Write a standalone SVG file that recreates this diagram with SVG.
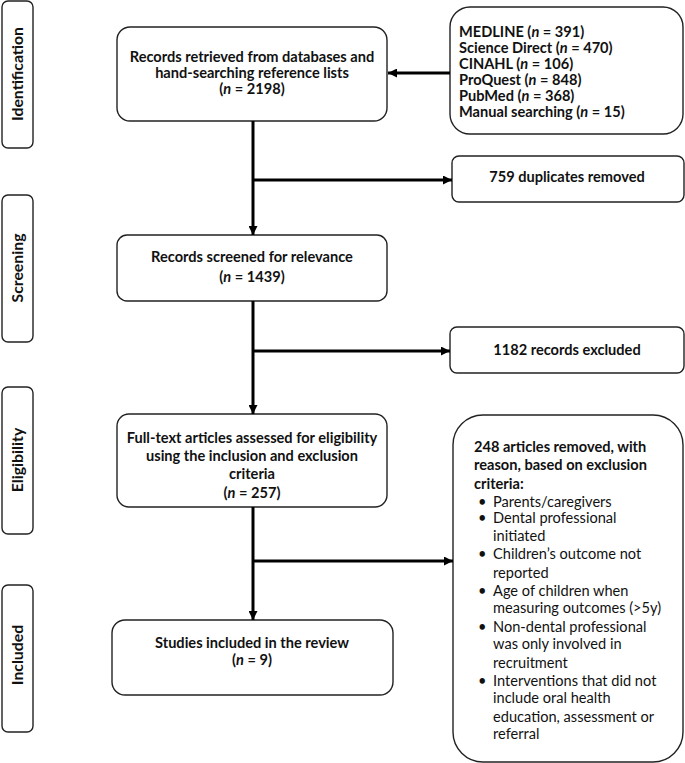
<svg xmlns="http://www.w3.org/2000/svg" width="685" height="763" viewBox="0 0 685 763">
<style>
.box{fill:#fff;stroke:#222;stroke-width:1.4}
.t{font-family:Lato,"Liberation Sans",sans-serif;font-size:14.6px;fill:#111}
.s{font-size:15.8px}
.b{font-weight:bold}
.c{text-anchor:middle}
.i{font-style:italic}
.ln{stroke:#000;stroke-width:3;fill:none}
</style>
<defs>
<marker id="ah" viewBox="0 0 10 10" refX="10" refY="5" markerWidth="3" markerHeight="3" orient="auto" markerUnits="strokeWidth">
<path d="M0,0 L10,5 L0,10 Z" fill="#000"/>
</marker>
</defs>
<rect width="685" height="763" fill="#fff"/>

<g id="stage-identification">
<rect class="box" x="2" y="1" width="31" height="147" rx="6"/>
<text class="t s b c" transform="translate(23,74) rotate(-90)">Identification</text>
</g>
<g id="stage-screening">
<rect class="box" x="2" y="195" width="31" height="147" rx="6"/>
<text class="t s b c" transform="translate(23,268) rotate(-90)">Screening</text>
</g>
<g id="stage-eligibility">
<rect class="box" x="2" y="387" width="31" height="147" rx="6"/>
<text class="t s b c" transform="translate(23,460) rotate(-90)">Eligibility</text>
</g>
<g id="stage-included">
<rect class="box" x="2" y="585" width="31" height="147" rx="6"/>
<text class="t s b c" transform="translate(23,655) rotate(-90)">Included</text>
</g>

<g id="records-retrieved">
<rect class="box" x="117" y="27" width="270" height="94" rx="13"/>
<text class="t b c" x="252" y="62">Records retrieved from databases and</text>
<text class="t b c" x="252" y="78">hand-searching reference lists</text>
<text class="t b c" x="252" y="94">(<tspan class="i">n</tspan> = 2198)</text>
</g>

<g id="sources">
<rect class="box" x="450" y="7" width="233" height="127" rx="20"/>
<text class="t b" x="459" y="37">MEDLINE (<tspan class="i">n</tspan> = 391)</text>
<text class="t b" x="459" y="53">Science Direct (<tspan class="i">n</tspan> = 470)</text>
<text class="t b" x="459" y="69">CINAHL (<tspan class="i">n</tspan> = 106)</text>
<text class="t b" x="459" y="85">ProQuest (<tspan class="i">n</tspan> = 848)</text>
<text class="t b" x="459" y="101">PubMed (<tspan class="i">n</tspan> = 368)</text>
<text class="t b" x="459" y="117">Manual searching (<tspan class="i">n</tspan> = 15)</text>
</g>

<g id="duplicates">
<rect class="box" x="452" y="156" width="232" height="46" rx="7"/>
<text class="t b c" x="567" y="182">759 duplicates removed</text>
</g>

<g id="records-screened">
<rect class="box" x="117" y="235" width="270" height="66" rx="10"/>
<text class="t b c" x="252" y="262">Records screened for relevance</text>
<text class="t b c" x="252" y="282">(<tspan class="i">n</tspan> =  1439)</text>
</g>

<g id="records-excluded">
<rect class="box" x="450" y="327" width="234" height="46" rx="7"/>
<text class="t b c" x="567" y="355">1182 records excluded</text>
</g>

<g id="full-text">
<rect class="box" x="117" y="414" width="270" height="93" rx="12"/>
<text class="t b c" x="252" y="443">Full-text articles assessed for eligibility</text>
<text class="t b c" x="252" y="461">using the inclusion and exclusion</text>
<text class="t b c" x="252" y="479">criteria</text>
<text class="t b c" x="252" y="498">(<tspan class="i">n</tspan> =  257)</text>
</g>

<g id="articles-removed">
<rect class="box" x="453" y="415" width="230" height="347" rx="30"/>
<text class="t b" x="474" y="452">248 articles removed, with</text>
<text class="t b" x="474" y="470">reason, based on exclusion</text>
<text class="t b" x="474" y="489">criteria:</text>
<g class="t">
<text x="478" y="507">•</text><text x="493" y="507">Parents/caregivers</text>
<text x="478" y="523">•</text><text x="493" y="523">Dental professional</text>
<text x="493" y="541">initiated</text>
<text x="478" y="559">•</text><text x="493" y="559">Children’s outcome not</text>
<text x="493" y="578">reported</text>
<text x="478" y="596">•</text><text x="493" y="596">Age of children when</text>
<text x="493" y="613">measuring outcomes (&gt;5y)</text>
<text x="478" y="632">•</text><text x="493" y="632">Non-dental professional</text>
<text x="493" y="649">was only involved in</text>
<text x="493" y="668">recruitment</text>
<text x="478" y="686">•</text><text x="493" y="686">Interventions that did not</text>
<text x="493" y="703">include oral health</text>
<text x="493" y="722">education, assessment or</text>
<text x="493" y="739">referral</text>
</g>
</g>

<g id="studies-included">
<rect class="box" x="112" y="620" width="281" height="75" rx="13"/>
<text class="t b c" x="252" y="648">Studies included in the review</text>
<text class="t b c" x="252" y="665">(<tspan class="i">n</tspan> = 9)</text>
</g>

<g id="connectors">
<line class="ln" x1="450" y1="73" x2="388" y2="73" marker-end="url(#ah)"/>
<line class="ln" x1="253" y1="121" x2="253" y2="235" marker-end="url(#ah)"/>
<line class="ln" x1="253" y1="180" x2="452" y2="180" marker-end="url(#ah)"/>
<line class="ln" x1="253" y1="301" x2="253" y2="414" marker-end="url(#ah)"/>
<line class="ln" x1="253" y1="351" x2="450" y2="351" marker-end="url(#ah)"/>
<line class="ln" x1="253" y1="507" x2="253" y2="620" marker-end="url(#ah)"/>
<line class="ln" x1="253" y1="561" x2="453" y2="561" marker-end="url(#ah)"/>
</g>
</svg>
